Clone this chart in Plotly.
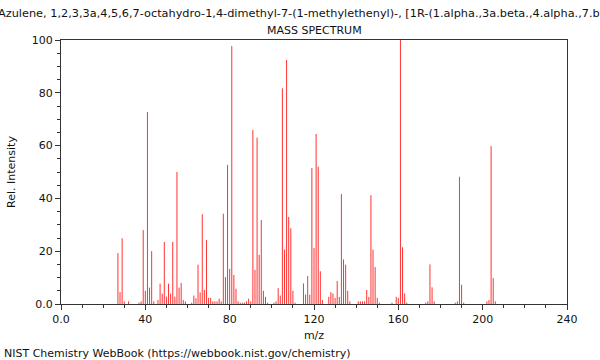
import plotly.graph_objects as go

mz = [27, 28, 29, 30, 32, 37, 38, 39, 40, 41, 42, 43, 44, 46, 47, 48, 49, 50, 51, 52,
      53, 54, 55, 56, 57, 58, 59, 62, 63, 64, 65, 66, 67, 68, 69, 70, 71, 72, 73, 74,
      75, 76, 77, 78, 79, 80, 81, 82, 83, 84, 85, 86, 87, 88, 89, 90, 91, 92, 93, 94,
      95, 96, 97, 98, 101, 102, 103, 104, 105, 106, 107, 108, 109, 110, 111, 115, 116, 117, 118, 119,
      120, 121, 122, 123, 124, 127, 128, 129, 130, 131, 132, 133, 134, 135, 136, 137, 141, 142, 143, 144,
      145, 146, 147, 148, 149, 150, 151, 157, 159, 160, 161, 162, 163, 164, 173, 174, 175, 176, 177, 187,
      188, 189, 190, 191, 202, 203, 204, 205, 206]
intensity = [19.3, 4.5, 24.9, 1.0, 1.0, 0.5, 1.0, 28.0, 5.0, 72.7, 6.2, 20.0, 1.0, 1.5, 7.7, 3.9, 23.5, 2.8, 7.7, 3.9,
             23.5, 2.8, 50.0, 6.2, 8.0, 1.5, 1.0, 0.5, 3.2, 2.2, 14.9, 4.4, 34.0, 5.3, 24.2, 2.3, 2.3, 1.0, 1.0, 1.0,
             2.0, 1.0, 34.2, 10.2, 52.7, 13.3, 97.7, 11.0, 5.8, 1.0, 0.5, 0.5, 0.5, 1.0, 2.0, 1.0, 65.9, 12.9, 63.0, 18.6,
             31.8, 5.0, 2.7, 0.5, 0.5, 1.0, 6.0, 3.2, 81.7, 20.6, 92.4, 33.0, 28.7, 5.0, 0.5, 7.8, 3.6, 10.6, 3.5, 51.5,
             21.2, 64.4, 52.0, 12.4, 1.5, 2.7, 4.5, 4.0, 2.3, 8.7, 2.7, 41.7, 16.9, 14.9, 5.0, 1.0, 1.0, 1.0, 1.0, 1.0,
             5.3, 2.7, 41.2, 20.6, 14.0, 2.3, 0.5, 0.5, 2.7, 2.3, 100.0, 21.5, 4.0, 0.5, 0.5, 1.0, 15.0, 6.3, 1.0, 0.5,
             1.0, 48.2, 7.3, 0.5, 1.0, 1.5, 59.8, 9.8, 1.0]

x_ticks = [0, 40, 80, 120, 160, 200, 240]
x_tick_labels = ["0.0", "40", "80", "120", "160", "200", "240"]
y_ticks = [0, 20, 40, 60, 80, 100]
y_tick_labels = ["0.0", "20", "40", "60", "80", "100"]

title_text = ("Azulene, 1,2,3,3a,4,5,6,7-octahydro-1,4-dimethyl-7-(1-methylethenyl)-, "
              "[1R-(1.alpha.,3a.beta.,4.alpha.,7.beta.)]-")
subtitle_text = "MASS SPECTRUM"
x_title = "m/z"
y_title = "Rel. Intensity"
footer_text = "NIST Chemistry WebBook (https://webbook.nist.gov/chemistry)"

font = "DejaVu Sans"
axis_color = "#333333"

# stick spectrum: one vertical segment per peak, built from the data arrays
seg_x, seg_y = [], []
for m, v in zip(mz, intensity):
    seg_x += [m, m, None]
    seg_y += [0, v, None]

fig = go.Figure(go.Scatter(x=seg_x, y=seg_y, mode="lines",
                           line=dict(color="#ff3333", width=1), hoverinfo="skip"))

fig.update_layout(
    width=600, height=360,
    margin=dict(l=61, r=33, t=40, b=56),
    paper_bgcolor="white", plot_bgcolor="white",
    showlegend=False,
    font=dict(family=font, size=11, color="#111111"),
    xaxis=dict(range=[0, 240], tickmode="array", tickvals=x_ticks, ticktext=x_tick_labels,
               ticks="outside", ticklen=5, tickwidth=1, tickcolor=axis_color,
               minor=dict(dtick=10, ticks="outside", ticklen=3, tickcolor=axis_color, showgrid=False),
               showline=True, linecolor=axis_color, linewidth=1, mirror=True,
               showgrid=False, zeroline=False, automargin=False,
               title=dict(text=x_title, standoff=6, font=dict(size=11)),
               tickfont=dict(size=11)),
    yaxis=dict(range=[0, 100], tickmode="array", tickvals=y_ticks, ticktext=y_tick_labels,
               ticks="outside", ticklen=5, tickwidth=1, tickcolor=axis_color,
               minor=dict(dtick=5, ticks="outside", ticklen=3, tickcolor=axis_color, showgrid=False),
               showline=True, linecolor=axis_color, linewidth=1, mirror=True,
               showgrid=False, zeroline=False, automargin=False,
               title=dict(text=y_title, standoff=13, font=dict(size=11)),
               tickfont=dict(size=11)),
    annotations=[
        dict(text=title_text, xref="paper", yref="paper", x=0.5, y=1, yshift=27, xshift=2,
             xanchor="center", yanchor="middle", showarrow=False, font=dict(size=11.3)),
        dict(text=subtitle_text, xref="paper", yref="paper", x=0.5, y=1, yshift=10,
             xanchor="center", yanchor="middle", showarrow=False, font=dict(size=11)),
        dict(text=footer_text, xref="paper", yref="paper", x=0, xshift=-59, y=0, yshift=-49,
             xanchor="left", yanchor="middle", showarrow=False, font=dict(size=11)),
    ],
)

fig.write_html("out.html", config={"displayModeBar": False},
               post_script="document.body.style.margin='0';")
